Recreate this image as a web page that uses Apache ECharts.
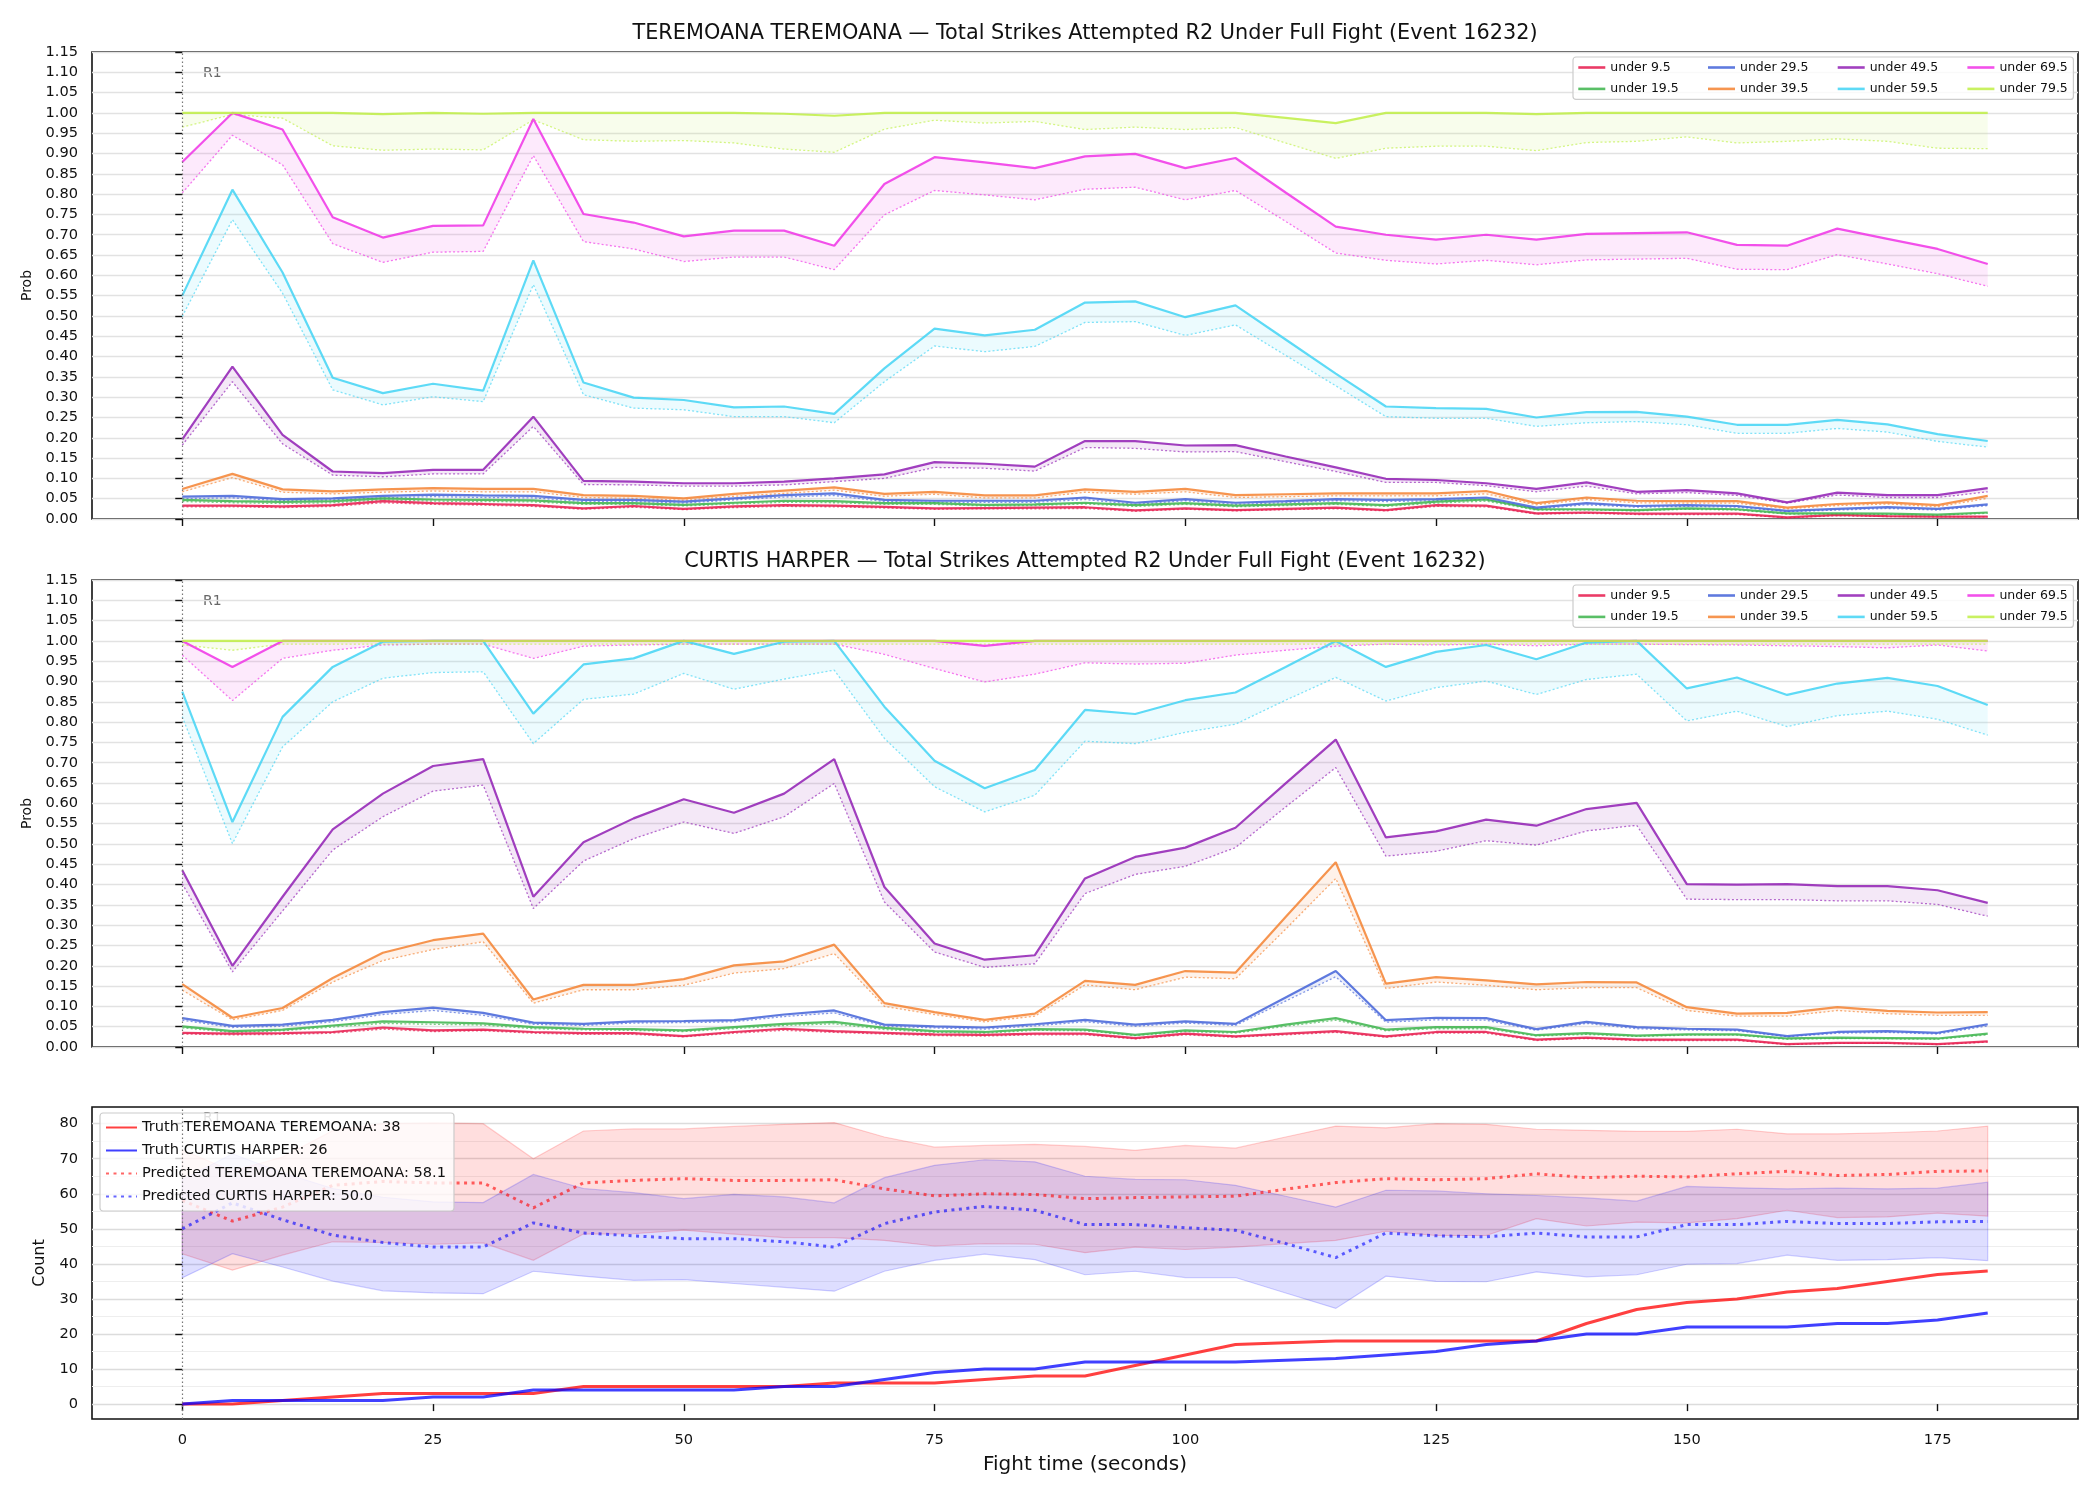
<!DOCTYPE html>
<html>
<head>
<meta charset="utf-8">
<title>Total Strikes Attempted R2 Under Full Fight</title>
<script src="https://cdn.jsdelivr.net/npm/echarts@6.0.0/dist/echarts.min.js"></script>
<style>
    html, body { margin: 0; padding: 0; background: #fff; }
    #main { width: 2100px; height: 1500px; }
</style>
</head>
<body>
<div id="main"></div>
<script>
// fight time in seconds
const times = [0, 5, 10, 15, 20, 25, 30, 35, 40, 45, 50, 55, 60, 65, 70, 75, 80, 85,
    90, 95, 100, 105, 110, 115, 120, 125, 130, 135, 140, 145, 150, 155, 160, 165, 170, 175, 180];
const thresholds = ['under 9.5', 'under 19.5', 'under 29.5', 'under 39.5', 'under 49.5', 'under 59.5', 'under 69.5', 'under 79.5'];
const colors = ['#e6194b', '#3cb44b', '#4363d8', '#f58231', '#911eb4', '#42d4f4', '#f032e6', '#bfef45'];
const xTicks = [0, 25, 50, 75, 100, 125, 150, 175];
const countTicks = [0, 10, 20, 30, 40, 50, 60, 70, 80];
const countMinor = [5, 15, 25, 35, 45, 55, 65, 75];

// TEREMOANA TEREMOANA: solid line and dotted lower line per threshold
const tU9 = [0.033, 0.033, 0.031, 0.034, 0.044, 0.039, 0.037, 0.034, 0.026, 0.032, 0.025, 0.031, 0.034, 0.033, 0.030, 0.026, 0.027, 0.028,
    0.029, 0.021, 0.026, 0.022, 0.025, 0.028, 0.022, 0.034, 0.033, 0.014, 0.016, 0.013, 0.013, 0.013, 0.004, 0.010, 0.007, 0.006, 0.006];
const tU9lo = [0.030, 0.030, 0.028, 0.031, 0.040, 0.036, 0.034, 0.031, 0.024, 0.029, 0.023, 0.028, 0.031, 0.030, 0.027, 0.024, 0.025, 0.025,
    0.026, 0.019, 0.024, 0.020, 0.023, 0.025, 0.020, 0.031, 0.030, 0.012, 0.014, 0.011, 0.011, 0.011, 0.003, 0.008, 0.006, 0.005, 0.005];
const tU19 = [0.047, 0.044, 0.042, 0.044, 0.051, 0.048, 0.047, 0.046, 0.039, 0.039, 0.035, 0.040, 0.045, 0.044, 0.039, 0.039, 0.035, 0.036,
    0.040, 0.034, 0.039, 0.033, 0.036, 0.039, 0.034, 0.043, 0.048, 0.024, 0.024, 0.022, 0.026, 0.024, 0.014, 0.014, 0.013, 0.011, 0.016];
const tU19lo = [0.043, 0.040, 0.038, 0.040, 0.047, 0.044, 0.043, 0.042, 0.036, 0.036, 0.032, 0.037, 0.041, 0.040, 0.036, 0.036, 0.032, 0.033,
    0.037, 0.031, 0.036, 0.030, 0.033, 0.036, 0.031, 0.039, 0.044, 0.022, 0.022, 0.020, 0.024, 0.022, 0.012, 0.012, 0.011, 0.009, 0.014];
const tU29 = [0.055, 0.057, 0.049, 0.051, 0.057, 0.060, 0.058, 0.057, 0.047, 0.047, 0.043, 0.051, 0.059, 0.063, 0.047, 0.045, 0.045, 0.045,
    0.053, 0.040, 0.049, 0.040, 0.044, 0.049, 0.047, 0.049, 0.053, 0.028, 0.039, 0.032, 0.034, 0.032, 0.020, 0.025, 0.029, 0.025, 0.036];
const tU29lo = [0.050, 0.052, 0.045, 0.047, 0.052, 0.055, 0.053, 0.052, 0.043, 0.043, 0.039, 0.047, 0.054, 0.058, 0.043, 0.041, 0.041, 0.041,
    0.048, 0.036, 0.045, 0.036, 0.040, 0.045, 0.043, 0.045, 0.048, 0.025, 0.035, 0.029, 0.031, 0.029, 0.018, 0.022, 0.026, 0.022, 0.033];
const tU39 = [0.074, 0.111, 0.073, 0.068, 0.073, 0.076, 0.074, 0.074, 0.059, 0.057, 0.051, 0.062, 0.070, 0.078, 0.062, 0.067, 0.058, 0.058,
    0.073, 0.067, 0.074, 0.059, 0.061, 0.063, 0.063, 0.063, 0.069, 0.039, 0.053, 0.045, 0.044, 0.044, 0.028, 0.037, 0.041, 0.034, 0.057];
const tU39lo = [0.067, 0.102, 0.066, 0.062, 0.066, 0.069, 0.067, 0.067, 0.053, 0.051, 0.046, 0.056, 0.063, 0.071, 0.056, 0.061, 0.052, 0.052,
    0.066, 0.061, 0.067, 0.053, 0.055, 0.057, 0.057, 0.057, 0.062, 0.035, 0.048, 0.040, 0.039, 0.039, 0.025, 0.033, 0.037, 0.030, 0.051];
const tU49 = [0.196, 0.375, 0.207, 0.117, 0.113, 0.121, 0.121, 0.252, 0.094, 0.092, 0.088, 0.088, 0.092, 0.100, 0.110, 0.140, 0.136, 0.129,
    0.192, 0.192, 0.181, 0.182, 0.154, 0.127, 0.099, 0.096, 0.088, 0.074, 0.090, 0.067, 0.071, 0.063, 0.041, 0.065, 0.059, 0.059, 0.076];
const tU49lo = [0.182, 0.338, 0.185, 0.108, 0.104, 0.111, 0.111, 0.228, 0.085, 0.084, 0.081, 0.081, 0.084, 0.092, 0.100, 0.127, 0.125, 0.118,
    0.176, 0.174, 0.165, 0.166, 0.141, 0.117, 0.090, 0.090, 0.082, 0.067, 0.081, 0.062, 0.065, 0.058, 0.039, 0.059, 0.053, 0.053, 0.067];
const tU59 = [0.550, 0.811, 0.607, 0.348, 0.310, 0.333, 0.316, 0.637, 0.336, 0.299, 0.293, 0.275, 0.277, 0.259, 0.371, 0.469, 0.452, 0.466,
    0.533, 0.536, 0.497, 0.526, 0.442, 0.358, 0.277, 0.273, 0.271, 0.250, 0.263, 0.264, 0.252, 0.232, 0.232, 0.244, 0.233, 0.209, 0.192];
const tU59lo = [0.499, 0.737, 0.556, 0.318, 0.281, 0.301, 0.289, 0.577, 0.306, 0.273, 0.269, 0.252, 0.252, 0.237, 0.338, 0.426, 0.412, 0.425,
    0.484, 0.486, 0.452, 0.478, 0.403, 0.328, 0.252, 0.248, 0.248, 0.228, 0.237, 0.240, 0.232, 0.211, 0.211, 0.223, 0.214, 0.191, 0.177];
const tU69 = [0.879, 1.000, 0.959, 0.743, 0.693, 0.722, 0.723, 0.985, 0.751, 0.730, 0.696, 0.710, 0.710, 0.673, 0.825, 0.891, 0.878, 0.864,
    0.893, 0.899, 0.864, 0.889, 0.804, 0.720, 0.700, 0.688, 0.700, 0.688, 0.702, 0.704, 0.706, 0.675, 0.673, 0.715, 0.690, 0.665, 0.628];
const tU69lo = [0.803, 0.945, 0.872, 0.678, 0.632, 0.657, 0.659, 0.895, 0.683, 0.665, 0.634, 0.645, 0.645, 0.614, 0.749, 0.809, 0.798, 0.786,
    0.812, 0.817, 0.786, 0.809, 0.733, 0.655, 0.637, 0.628, 0.637, 0.626, 0.638, 0.640, 0.642, 0.615, 0.614, 0.651, 0.628, 0.604, 0.573];
const tU79 = [1.000, 1.000, 1.000, 1.000, 0.997, 1.000, 0.998, 1.000, 1.000, 1.000, 1.000, 1.000, 0.998, 0.993, 1.000, 1.000, 1.000, 1.000,
    1.000, 1.000, 1.000, 1.000, 0.988, 0.975, 1.000, 1.000, 1.000, 0.997, 1.000, 1.000, 1.000, 1.000, 1.000, 1.000, 1.000, 1.000, 1.000];
const tU79lo = [0.965, 0.996, 0.987, 0.919, 0.908, 0.911, 0.909, 0.983, 0.934, 0.930, 0.932, 0.926, 0.911, 0.903, 0.960, 0.982, 0.975, 0.979,
    0.959, 0.965, 0.959, 0.964, 0.926, 0.888, 0.913, 0.918, 0.918, 0.907, 0.927, 0.930, 0.941, 0.926, 0.930, 0.936, 0.930, 0.913, 0.912];

// CURTIS HARPER
const cU9 = [0.035, 0.033, 0.034, 0.037, 0.048, 0.041, 0.043, 0.037, 0.034, 0.034, 0.027, 0.037, 0.045, 0.039, 0.035, 0.031, 0.030, 0.033,
    0.033, 0.022, 0.033, 0.026, 0.033, 0.039, 0.026, 0.037, 0.037, 0.018, 0.023, 0.018, 0.018, 0.018, 0.007, 0.010, 0.010, 0.007, 0.014];
const cU9lo = [0.032, 0.030, 0.031, 0.034, 0.044, 0.038, 0.040, 0.034, 0.031, 0.031, 0.025, 0.034, 0.041, 0.036, 0.032, 0.028, 0.027, 0.030,
    0.030, 0.020, 0.030, 0.024, 0.030, 0.036, 0.024, 0.034, 0.034, 0.016, 0.021, 0.016, 0.016, 0.016, 0.006, 0.009, 0.009, 0.006, 0.012];
const cU19 = [0.051, 0.039, 0.043, 0.053, 0.063, 0.061, 0.058, 0.049, 0.045, 0.044, 0.041, 0.049, 0.057, 0.062, 0.047, 0.039, 0.037, 0.044,
    0.043, 0.030, 0.041, 0.037, 0.055, 0.071, 0.043, 0.049, 0.049, 0.029, 0.034, 0.028, 0.031, 0.031, 0.021, 0.023, 0.022, 0.021, 0.033];
const cU19lo = [0.047, 0.036, 0.040, 0.049, 0.058, 0.056, 0.054, 0.045, 0.042, 0.041, 0.038, 0.045, 0.053, 0.057, 0.043, 0.036, 0.034, 0.041,
    0.040, 0.028, 0.038, 0.034, 0.051, 0.066, 0.040, 0.045, 0.045, 0.027, 0.031, 0.026, 0.029, 0.029, 0.019, 0.021, 0.020, 0.019, 0.030];
const cU29 = [0.071, 0.052, 0.055, 0.067, 0.086, 0.097, 0.084, 0.060, 0.057, 0.063, 0.064, 0.066, 0.080, 0.090, 0.055, 0.051, 0.048, 0.056,
    0.067, 0.055, 0.063, 0.057, 0.122, 0.187, 0.066, 0.072, 0.071, 0.044, 0.062, 0.049, 0.045, 0.043, 0.027, 0.037, 0.039, 0.035, 0.056];
const cU29lo = [0.066, 0.048, 0.051, 0.062, 0.080, 0.090, 0.078, 0.056, 0.053, 0.059, 0.060, 0.062, 0.075, 0.084, 0.051, 0.047, 0.044, 0.052,
    0.062, 0.051, 0.059, 0.053, 0.113, 0.173, 0.061, 0.067, 0.066, 0.041, 0.058, 0.045, 0.042, 0.040, 0.025, 0.034, 0.036, 0.032, 0.052];
const cU39 = [0.155, 0.072, 0.096, 0.170, 0.232, 0.263, 0.279, 0.117, 0.153, 0.153, 0.167, 0.201, 0.211, 0.252, 0.108, 0.086, 0.067, 0.082,
    0.163, 0.153, 0.187, 0.183, 0.320, 0.455, 0.156, 0.172, 0.164, 0.154, 0.160, 0.159, 0.098, 0.082, 0.084, 0.098, 0.089, 0.085, 0.086];
const cU39lo = [0.140, 0.067, 0.090, 0.160, 0.213, 0.240, 0.259, 0.108, 0.141, 0.141, 0.152, 0.182, 0.193, 0.230, 0.100, 0.080, 0.062, 0.076,
    0.153, 0.141, 0.172, 0.168, 0.290, 0.415, 0.144, 0.160, 0.152, 0.141, 0.146, 0.146, 0.090, 0.076, 0.076, 0.090, 0.082, 0.078, 0.078];
const cU49 = [0.435, 0.200, 0.370, 0.536, 0.624, 0.692, 0.709, 0.370, 0.504, 0.563, 0.610, 0.577, 0.624, 0.709, 0.394, 0.255, 0.215, 0.226,
    0.415, 0.468, 0.491, 0.540, 0.649, 0.757, 0.516, 0.531, 0.560, 0.545, 0.586, 0.601, 0.401, 0.400, 0.401, 0.396, 0.396, 0.386, 0.355];
const cU49lo = [0.402, 0.185, 0.335, 0.485, 0.567, 0.630, 0.645, 0.341, 0.458, 0.513, 0.554, 0.526, 0.567, 0.649, 0.357, 0.234, 0.196, 0.205,
    0.378, 0.425, 0.445, 0.491, 0.591, 0.688, 0.470, 0.482, 0.508, 0.497, 0.532, 0.546, 0.364, 0.363, 0.363, 0.360, 0.360, 0.351, 0.322];
const cU59 = [0.875, 0.554, 0.813, 0.936, 0.998, 1.000, 1.000, 0.821, 0.942, 0.957, 1.000, 0.968, 0.998, 1.000, 0.838, 0.705, 0.637, 0.682,
    0.830, 0.820, 0.854, 0.873, 0.936, 1.000, 0.936, 0.973, 0.990, 0.955, 0.996, 1.000, 0.883, 0.910, 0.867, 0.895, 0.909, 0.889, 0.842];
const cU59lo = [0.813, 0.501, 0.739, 0.850, 0.908, 0.922, 0.924, 0.747, 0.856, 0.869, 0.920, 0.881, 0.906, 0.928, 0.760, 0.641, 0.579, 0.620,
    0.753, 0.747, 0.775, 0.795, 0.854, 0.910, 0.852, 0.885, 0.901, 0.868, 0.905, 0.918, 0.803, 0.827, 0.789, 0.816, 0.827, 0.807, 0.768];
const cU69 = [1.000, 0.936, 1.000, 1.000, 1.000, 1.000, 1.000, 1.000, 1.000, 1.000, 1.000, 1.000, 1.000, 1.000, 1.000, 1.000, 0.988, 1.000,
    1.000, 1.000, 1.000, 1.000, 1.000, 1.000, 1.000, 1.000, 1.000, 1.000, 1.000, 1.000, 1.000, 1.000, 1.000, 1.000, 1.000, 1.000, 1.000];
const cU69lo = [0.965, 0.853, 0.957, 0.977, 0.990, 0.992, 0.992, 0.957, 0.987, 0.990, 0.992, 0.992, 0.992, 0.992, 0.967, 0.932, 0.899, 0.918,
    0.946, 0.943, 0.945, 0.965, 0.977, 0.987, 0.992, 0.990, 0.992, 0.988, 0.992, 0.992, 0.991, 0.990, 0.988, 0.986, 0.983, 0.990, 0.975];
const cU79 = [1.000, 1.000, 1.000, 1.000, 1.000, 1.000, 1.000, 1.000, 1.000, 1.000, 1.000, 1.000, 1.000, 1.000, 1.000, 1.000, 1.000, 1.000,
    1.000, 1.000, 1.000, 1.000, 1.000, 1.000, 1.000, 1.000, 1.000, 1.000, 1.000, 1.000, 1.000, 1.000, 1.000, 1.000, 1.000, 1.000, 1.000];
const cU79lo = [0.990, 0.977, 0.992, 0.992, 0.992, 0.992, 0.992, 0.992, 0.992, 0.992, 0.992, 0.992, 0.992, 0.992, 0.992, 0.992, 0.992, 0.992,
    0.992, 0.992, 0.992, 0.992, 0.992, 0.992, 0.992, 0.992, 0.992, 0.992, 0.992, 0.992, 0.992, 0.992, 0.992, 0.992, 0.992, 0.992, 0.992];

// counts
const truthTeremoana = [0, 0, 1, 2, 3, 3, 3, 3, 5, 5, 5, 5, 5, 6, 6, 6, 7, 8,
    8, 11, 14, 17, 17.5, 18, 18, 18, 18, 18, 23, 27, 29, 30, 32, 33, 35, 37, 38];
const truthCurtis = [0, 1, 1, 1, 1, 2, 2, 4, 4, 4, 4, 4, 5, 5, 7, 9, 10, 10,
    12, 12, 12, 12, 12.5, 13, 14, 15, 17, 18, 20, 20, 22, 22, 22, 23, 23, 24, 26];
const predTeremoana = [58.1, 52.2, 56.2, 62.4, 63.5, 63.1, 63.1, 56.0, 63.1, 63.8, 64.3, 63.8, 63.8, 64.0, 61.4, 59.4, 60.0, 59.8,
    58.6, 58.9, 59.1, 59.3, 61.3, 63.2, 64.3, 64.0, 64.3, 65.7, 64.6, 65.0, 64.8, 65.7, 66.4, 65.2, 65.5, 66.4, 66.5];
const predCurtis = [50.0, 57.4, 52.6, 48.2, 46.1, 44.8, 44.8, 51.7, 48.8, 48.0, 47.2, 47.2, 46.3, 44.8, 51.5, 54.8, 56.4, 55.3,
    51.2, 51.2, 50.3, 49.6, 45.8, 41.8, 48.8, 48.0, 47.7, 48.8, 47.7, 47.7, 51.2, 51.2, 52.1, 51.5, 51.5, 52.0, 52.1];
const teremoanaHi = [72.5, 66.5, 70.5, 78.0, 80.0, 80.2, 80.0, 70.0, 77.9, 78.5, 78.5, 79.2, 79.8, 80.3, 76.2, 73.3, 73.8, 74.1,
    73.5, 72.4, 73.8, 73.0, 76.2, 79.3, 78.8, 80.0, 79.8, 78.4, 78.1, 77.8, 77.8, 78.4, 77.1, 77.1, 77.4, 77.9, 79.3];
const teremoanaLo = [42.9, 38.2, 42.5, 46.3, 46.1, 45.6, 46.0, 41.0, 48.5, 48.6, 49.6, 48.5, 47.5, 47.5, 46.7, 45.1, 45.8, 45.6,
    43.2, 44.8, 44.1, 44.8, 45.8, 46.7, 49.3, 48.1, 48.1, 52.9, 50.8, 51.9, 51.7, 52.9, 55.3, 53.2, 53.4, 54.5, 53.6];
const curtisHi = [64.0, 71.4, 66.0, 61.5, 59.0, 57.7, 57.5, 65.5, 61.5, 60.3, 58.6, 59.8, 59.1, 57.4, 64.6, 68.1, 69.7, 69.1,
    65.0, 64.1, 64.0, 62.4, 59.3, 56.2, 61.0, 60.8, 60.0, 59.5, 58.8, 57.9, 62.1, 61.7, 61.4, 61.6, 61.4, 61.6, 63.3];
const curtisLo = [36.0, 42.9, 39.1, 35.1, 32.3, 31.7, 31.5, 37.9, 36.5, 35.3, 35.5, 34.4, 33.3, 32.2, 37.9, 41.0, 42.8, 41.2,
    36.9, 37.9, 36.1, 36.1, 31.7, 27.3, 36.5, 35.0, 34.9, 37.7, 36.3, 36.9, 39.9, 40.1, 42.5, 41.0, 41.2, 41.8, 40.9];

const FONT = 'DejaVu Sans';
const teremoanaSets = [[tU9, tU9lo], [tU19, tU19lo], [tU29, tU29lo], [tU39, tU39lo], [tU49, tU49lo], [tU59, tU59lo], [tU69, tU69lo], [tU79, tU79lo]];
const curtisSets = [[cU9, cU9lo], [cU19, cU19lo], [cU29, cU29lo], [cU39, cU39lo], [cU49, cU49lo], [cU59, cU59lo], [cU69, cU69lo], [cU79, cU79lo]];

function pairs(ys) {
    return times.map((t, i) => [t, ys[i]]);
}

function rgba(hex, a) {
    const n = parseInt(hex.slice(1), 16);
    return 'rgba(' + (n >> 16) + ',' + ((n >> 8) & 255) + ',' + (n & 255) + ',' + a + ')';
}

// filled region between two curves, drawn as one polygon through the axis scales
function bandSeries(p, hi, lo, fill, stroke) {
    return {
        type: 'custom', xAxisIndex: p, yAxisIndex: p, z: 1, silent: true,
        data: times.map((t, i) => [t, lo[i], hi[i]]),
        encode: { x: 0, y: [1, 2] },
        renderItem: (params, api) => {
            if (params.dataIndex !== 0) return null;
            const upper = times.map((t, i) => api.coord([t, hi[i]]));
            const lower = times.map((t, i) => api.coord([t, lo[i]])).reverse();
            return {
                type: 'polygon',
                shape: { points: upper.concat(lower) },
                style: { fill: fill, stroke: stroke || 'none', lineWidth: stroke ? 1.2 : 0 }
            };
        }
    };
}

const roundLine = {
    silent: true,
    symbol: 'none',
    label: { show: false },
    lineStyle: { color: '#777', width: 1.2, type: [1.5, 2.5] },
    data: [{ xAxis: 0 }]
};

const series = [];
function addProbPanel(p, sets) {
    sets.forEach(([hi, lo], k) => {
        const c = colors[k];
        series.push(bandSeries(p, hi, lo, rgba(c, 0.1)));
        series.push({
            name: thresholds[k] + ' lo', type: 'line', xAxisIndex: p, yAxisIndex: p,
            data: pairs(lo), symbol: 'none', z: 2,
            lineStyle: { color: c, width: 1.3, type: [2, 2.2], opacity: 0.65 },
            markLine: k === 0 ? roundLine : undefined
        });
        series.push({
            name: thresholds[k], type: 'line', xAxisIndex: p, yAxisIndex: p,
            data: pairs(hi), symbol: 'none', z: 3, color: c,
            lineStyle: { color: c, width: 2.2, opacity: 0.85 }
        });
    });
}
addProbPanel(0, teremoanaSets);
addProbPanel(1, curtisSets);

series.push(bandSeries(2, teremoanaHi, teremoanaLo, 'rgba(255,0,0,0.13)', 'rgba(255,0,0,0.18)'));
series.push(bandSeries(2, curtisHi, curtisLo, 'rgba(0,0,255,0.13)', 'rgba(0,0,255,0.18)'));

series.push({
    name: 'Predicted TEREMOANA TEREMOANA: 58.1', type: 'line', xAxisIndex: 2, yAxisIndex: 2,
    data: pairs(predTeremoana), symbol: 'none', z: 3, color: '#ff0000',
    lineStyle: { color: '#ff0000', width: 3, type: [3, 4.5], opacity: 0.6 },
    markLine: roundLine
});
series.push({
    name: 'Predicted CURTIS HARPER: 50.0', type: 'line', xAxisIndex: 2, yAxisIndex: 2,
    data: pairs(predCurtis), symbol: 'none', z: 3, color: '#0000ff',
    lineStyle: { color: '#0000ff', width: 3, type: [3, 4.5], opacity: 0.6 }
});
series.push({
    name: 'Truth TEREMOANA TEREMOANA: 38', type: 'line', xAxisIndex: 2, yAxisIndex: 2,
    data: pairs(truthTeremoana), symbol: 'none', z: 4, color: '#ff0000',
    lineStyle: { color: '#ff0000', width: 3, opacity: 0.75 }
});
series.push({
    name: 'Truth CURTIS HARPER: 26', type: 'line', xAxisIndex: 2, yAxisIndex: 2,
    data: pairs(truthCurtis), symbol: 'none', z: 4, color: '#0000ff',
    lineStyle: { color: '#0000ff', width: 3, opacity: 0.75 }
});

const gridBase = { left: 92, width: 1986, show: true, borderColor: '#111', borderWidth: 1.6, backgroundColor: 'transparent' };
const grids = [
    Object.assign({ top: 52, height: 467 }, gridBase),
    Object.assign({ top: 580, height: 467 }, gridBase),
    Object.assign({ top: 1107, height: 312 }, gridBase)
];

function xAxis(g, labels) {
    return {
        type: 'value', gridIndex: g, min: -9, max: 189,
        axisLine: { show: false },
        axisTick: { customValues: xTicks, length: 7, lineStyle: { color: '#111', width: 1.4 } },
        axisLabel: { show: labels, customValues: xTicks, margin: 14, fontSize: 14.6, color: '#111', fontFamily: FONT },
        splitLine: { show: false },
        name: labels ? 'Fight time (seconds)' : '',
        nameLocation: 'middle', nameGap: 36,
        nameTextStyle: { fontSize: 20, color: '#111', fontFamily: FONT }
    };
}

function probAxis(g) {
    return {
        type: 'value', gridIndex: g, min: 0, max: 1.15, interval: 0.05,
        axisLine: { show: false },
        axisTick: { length: 7, lineStyle: { color: '#111', width: 1.4 } },
        axisLabel: { margin: 14, fontSize: 14.6, color: '#111', fontFamily: FONT, formatter: v => v.toFixed(2) },
        splitLine: { lineStyle: { color: '#e2e2e2', width: 1.3 } },
        name: 'Prob', nameLocation: 'middle', nameGap: 58,
        nameTextStyle: { fontSize: 14, color: '#111', fontFamily: FONT }
    };
}

const probLegend = top => ({
    left: 1573, top: top, width: 540, orient: 'horizontal',
    padding: [4, -14, 4, 4], itemGap: 8.4, itemWidth: 27, itemHeight: 11,
    selectedMode: false,
    data: ['under 9.5', 'under 29.5', 'under 49.5', 'under 69.5', 'under 19.5', 'under 39.5', 'under 59.5', 'under 79.5'],
    itemStyle: { opacity: 0, borderWidth: 0 },
    lineStyle: { width: 2.6 },
    textStyle: { fontSize: 12.5, width: 88, lineHeight: 11, color: '#111', fontFamily: FONT },
    backgroundColor: 'rgba(255,255,255,0.8)', borderColor: '#cccccc', borderWidth: 1.2, borderRadius: 3
});

const option = {
    animation: false,
    backgroundColor: '#ffffff',
    title: [
        { text: 'TEREMOANA TEREMOANA — Total Strikes Attempted R2 Under Full Fight (Event 16232)', left: 1085, textAlign: 'center', top: 23, padding: 0,
          textStyle: { fontSize: 20.8, fontWeight: 'normal', color: '#111', fontFamily: FONT } },
        { text: 'CURTIS HARPER — Total Strikes Attempted R2 Under Full Fight (Event 16232)', left: 1085, textAlign: 'center', top: 551, padding: 0,
          textStyle: { fontSize: 20.8, fontWeight: 'normal', color: '#111', fontFamily: FONT } }
    ],
    legend: [
        probLegend(57),
        probLegend(585),
        {
            left: 100, top: 1113, orient: 'vertical',
            padding: [7, 8, 7, 5], itemGap: 8, itemWidth: 31, itemHeight: 14,
            selectedMode: false,
            data: ['Truth TEREMOANA TEREMOANA: 38', 'Truth CURTIS HARPER: 26', 'Predicted TEREMOANA TEREMOANA: 58.1', 'Predicted CURTIS HARPER: 50.0'],
            itemStyle: { opacity: 0, borderWidth: 0 },
            textStyle: { fontSize: 14.6, color: '#111', fontFamily: FONT },
            backgroundColor: 'rgba(255,255,255,0.8)', borderColor: '#cccccc', borderWidth: 1.2, borderRadius: 3
        }
    ],
    grid: grids,
    xAxis: [xAxis(0, false), xAxis(1, false), xAxis(2, true)],
    yAxis: [
        probAxis(0),
        probAxis(1),
        {
            type: 'value', gridIndex: 2, min: -4.25, max: 84.75,
            axisLine: { show: false },
            axisTick: { customValues: countTicks, length: 7, lineStyle: { color: '#111', width: 1.4 } },
            axisLabel: { customValues: countTicks, margin: 14, fontSize: 14.6, color: '#111', fontFamily: FONT },
            splitLine: { lineStyle: { color: '#dcdcdc', width: 1.3 } },
            name: 'Count', nameLocation: 'middle', nameGap: 44,
            nameTextStyle: { fontSize: 16, color: '#111', fontFamily: FONT }
        },
        {
            type: 'value', gridIndex: 2, min: -4.25, max: 84.75,
            axisLine: { show: false },
            axisTick: { show: false, customValues: countMinor },
            axisLabel: { show: false, customValues: countMinor },
            splitLine: { lineStyle: { color: '#eeeeee', width: 1.1 } }
        }
    ],
    graphic: [
        { type: 'text', left: 203, top: 66, z: 0, style: { text: 'R1', fontSize: 14, fill: '#666', fontFamily: FONT } },
        { type: 'text', left: 203, top: 594, z: 0, style: { text: 'R1', fontSize: 14, fill: '#666', fontFamily: FONT } },
        { type: 'text', left: 203, top: 1111, z: 0, style: { text: 'R1', fontSize: 14, fill: '#666', fontFamily: FONT } }
    ],
    series: series
};

const chart = echarts.init(document.getElementById('main'), null, { renderer: 'canvas' });
chart.setOption(option);
window.onresize = chart.resize;
</script>
</body>
</html>
